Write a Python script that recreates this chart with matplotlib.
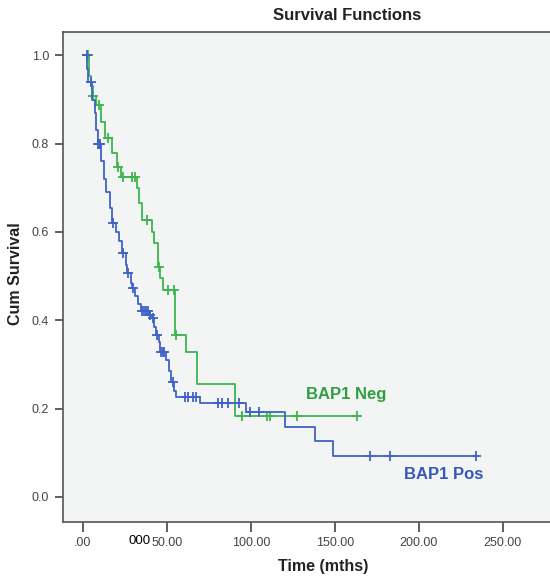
import numpy as np
import matplotlib
matplotlib.use('Agg')
import matplotlib.pyplot as plt

plt.rcParams['font.family'] = ['Liberation Sans', 'DejaVu Sans']

# BAP1 Neg (green)
neg_times = [0, 3.5, 5, 6, 8, 11, 13, 17, 20, 22.6, 32, 33.5, 35, 41, 42.4, 44.8, 46, 47.8, 54.5, 61.3, 67.7, 90.5]
neg_surv = [1.0, 0.953, 0.93, 0.907, 0.888, 0.85, 0.813, 0.78, 0.748, 0.725, 0.70, 0.665, 0.627, 0.60, 0.574,
            0.521, 0.495, 0.468, 0.366, 0.328, 0.256, 0.184]
neg_censored = [2.8, 6.1, 9.5, 14.9, 21, 23.8, 29.2, 31, 38, 45.5, 50.8, 54.2, 55.4, 94.6, 109.5, 111.3, 127.4, 163]

# BAP1 Pos (blue)
pos_times = [0, 2.5, 3, 5.5, 7, 8, 9, 11, 12.5, 14, 16, 17.5, 19.5, 21.5, 23.5, 25.5, 26.5, 28.5, 29.2, 31, 33,
             34.5, 39.5, 41, 42.5, 43.5, 45, 46, 49.5, 51, 52.5, 54, 55.5, 69.5, 97, 120.2, 138, 149]
pos_surv = [1.0, 0.97, 0.94, 0.90, 0.87, 0.83, 0.80, 0.76, 0.72, 0.69, 0.655, 0.62, 0.60, 0.58, 0.552, 0.525,
            0.507, 0.485, 0.474, 0.455, 0.437, 0.42, 0.412, 0.404, 0.385, 0.366, 0.35, 0.328, 0.31, 0.285, 0.26,
            0.24, 0.226, 0.212, 0.192, 0.158, 0.126, 0.093]
pos_censored = [2.2, 4.8, 9.1, 9.6, 10.2, 18, 24, 27, 29.5, 35, 36.5, 37.5, 38.5, 40, 41.9, 43.8, 46.5, 47.5,
                48.5, 53.5, 60.7, 62.7, 65.6, 67.5, 80.6, 82.5, 86.5, 93, 99.4, 105, 171, 183, 234]

x_ticks = [0, 50, 100, 150, 200, 250]
x_labels = ['.00', '50.00', '100.00', '150.00', '200.00', '250.00']
y_ticks = [0.0, 0.2, 0.4, 0.6, 0.8, 1.0]

green = '#3db54e'
blue = '#3f62c6'


def level_at(times, surv, t):
    i = np.searchsorted(times, t, side='right') - 1
    return surv[i]


fig = plt.figure(figsize=(5.5, 5.81), dpi=100)
ax = fig.add_axes([63 / 550, 1 - 522 / 581, 507 / 550, 490 / 581])
ax.set_facecolor('#f3f4f4')

for times, surv, cens, col in [(neg_times, neg_surv, neg_censored, green),
                                (pos_times, pos_surv, pos_censored, blue)]:
    tt = list(times) + [cens[-1]]
    ss = list(surv) + [surv[-1]]
    ax.step(tt, ss, where='post', color=col, lw=1.3)
    cy = [level_at(times, surv, c) for c in cens]
    ax.plot(cens, cy, '+', color=col, ms=7, mew=1.3)

ax.set_xlim(-11.9, 290)
ax.set_ylim(-0.057, 1.053)
ax.set_xticks(x_ticks)
ax.set_xticklabels(x_labels)
ax.set_yticks(y_ticks)
ax.set_yticklabels(['%.1f' % v for v in y_ticks])
ax.tick_params(direction='out', length=7, width=1.2, colors='#444444', labelsize=9, pad=4)
ax.tick_params(axis='y', length=6)
for s in ['left', 'bottom', 'top']:
    ax.spines[s].set_color('#555555')
    ax.spines[s].set_linewidth(1.2)
ax.spines['right'].set_visible(False)

ax.text(132.7, 0.232, 'BAP1 Neg', color='#2e9e3e', fontsize=12, fontweight='bold', va='center')
ax.text(191, 0.05, 'BAP1 Pos', color='#3558bb', fontsize=12, fontweight='bold', va='center')

fig.text(347 / 550, 1 - 16 / 581, 'Survival Functions', ha='center', va='center',
         fontsize=12, fontweight='bold', color='#222222')
fig.text(323 / 550, 1 - 567 / 581, 'Time (mths)', ha='center', va='center',
         fontsize=11.5, fontweight='bold', color='#222222')
fig.text(16 / 550, 1 - 274 / 581, 'Cum Survival', ha='center', va='center', rotation=90,
         fontsize=11.5, fontweight='bold', color='#222222')
fig.text(140 / 550, 1 - 541 / 581, '000', ha='center', va='center', fontsize=9.5, color='black')

fig.savefig('out.png', dpi=100)
